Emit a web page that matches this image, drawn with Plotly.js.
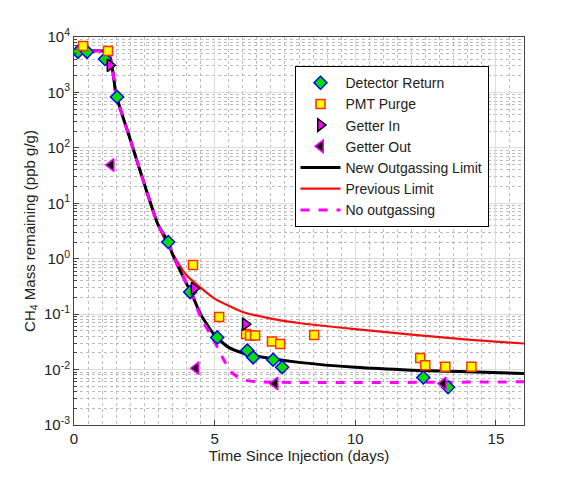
<!DOCTYPE html>
<html>
<head>
<meta charset="utf-8">
<script src="https://cdn.plot.ly/plotly-3.0.1.min.js"></script>
<style>body{margin:0}</style>
</head>
<body>
<div id="chart" style="width:579px;height:479px"></div>
<script>
// points mesurés
var detX = [0.14, 0.46, 1.1, 1.53, 3.35, 4.13, 5.09, 6.16, 6.37, 7.08, 7.4, 12.42, 13.3];
var detY = [5400, 5400, 4000, 830, 2.0, 0.25, 0.038, 0.022, 0.0166, 0.015, 0.011, 0.0072, 0.0048];
var pmtX = [0.32, 1.21, 4.23, 5.16, 6.12, 6.26, 6.44, 7.04, 7.33, 8.54, 12.31, 12.49, 13.2, 14.13];
var pmtY = [6900, 5600, 0.77, 0.089, 0.044, 0.041, 0.041, 0.032, 0.029, 0.042, 0.0161, 0.012, 0.0113, 0.0113];
var inX = [1.28, 4.27, 6.09];
var inY = [3100, 0.29, 0.066];
var outX = [1.32, 4.34, 7.15, 13.13];
var outY = [49, 0.0106, 0.0056, 0.0056];

// courbes (log10)
var newX = [0, 1.2, 1.5, 2, 2.5, 3, 3.35, 3.5, 4.0, 4.2, 4.5, 5.0, 5.5, 6, 7, 8, 10, 12, 14, 16];
var newL = [3.72, 3.72, 2.95, 2.15, 1.35, 0.6, 0.3, 0.08, -0.45, -0.65, -1.0, -1.38, -1.6, -1.7, -1.8, -1.87, -1.96, -2.01, -2.04, -2.07];
var prevX = [0, 1.2, 1.5, 2, 2.5, 3, 3.5, 4.0, 4.5, 5, 5.5, 6, 7, 8, 10, 12, 14, 16];
var prevL = [3.72, 3.72, 2.95, 2.15, 1.35, 0.6, 0.1, -0.3, -0.52, -0.72, -0.85, -0.96, -1.08, -1.16, -1.27, -1.37, -1.46, -1.53];
var noX = [0, 1.2, 1.5, 2, 2.5, 3, 3.35, 3.5, 4.0, 4.2, 4.5, 5, 5.3, 5.6, 6, 6.5, 16];
var noL = [3.72, 3.72, 2.95, 2.15, 1.35, 0.6, 0.3, 0.08, -0.45, -0.65, -1.05, -1.5, -1.8, -2.05, -2.18, -2.22, -2.22];

var yTickVals = [1e-3, 1e-2, 1e-1, 1, 10, 100, 1e3, 1e4];
var yTickText = ['10<sup>-3</sup>', '10<sup>-2</sup>', '10<sup>-1</sup>', '10<sup>0</sup>', '10<sup>1</sup>', '10<sup>2</sup>', '10<sup>3</sup>', '10<sup>4</sup>'];

function pow10(a) { return a.map(v => Math.pow(10, v)); }

var data = [
  {x: prevX, y: pow10(prevL), mode: 'lines', line: {color: '#f01010', width: 2.2, shape: 'spline', smoothing: 0.6}, name: 'Previous Limit', legendrank: 6},
  {x: newX, y: pow10(newL), mode: 'lines', line: {color: 'black', width: 3, shape: 'spline', smoothing: 0.6}, name: 'New Outgassing Limit', legendrank: 5},
  {x: noX, y: pow10(noL), mode: 'lines', line: {color: '#ff00ff', width: 3, dash: 'dash', shape: 'spline', smoothing: 0.6}, name: 'No outgassing', legendrank: 7},
  {x: detX, y: detY, mode: 'markers', name: 'Detector Return', legendrank: 1,
   marker: {symbol: 'diamond', size: 10, color: '#00e000', line: {color: '#0000ff', width: 1.5}}},
  {x: pmtX, y: pmtY, mode: 'markers', name: 'PMT Purge', legendrank: 2,
   marker: {symbol: 'square', size: 9, color: '#ffff00', line: {color: '#ff3000', width: 1.5}}},
  {x: inX, y: inY, mode: 'markers', name: 'Getter In', legendrank: 3,
   marker: {symbol: 'triangle-right', size: 11, color: '#ff00ff', line: {color: 'black', width: 1.5}}},
  {x: outX, y: outY, mode: 'markers', name: 'Getter Out', legendrank: 4,
   marker: {symbol: 'triangle-left', size: 11, color: 'black', line: {color: '#ff00ff', width: 1.5}}}
];

var axisCommon = {
  showline: true, mirror: true, linecolor: '#444', linewidth: 1,
  ticks: 'inside', ticklen: 5, tickcolor: '#444',
  gridcolor: '#dcdcdc', zeroline: false,
  tickfont: {size: 15, color: '#222'}
};

var layout = {
  width: 579, height: 479,
  font: {family: 'Liberation Sans, Arial, sans-serif', color: '#222'},
  margin: {l: 74, r: 55, t: 37, b: 54},
  plot_bgcolor: 'white', paper_bgcolor: 'white',
  xaxis: Object.assign({}, axisCommon, {
    range: [0, 16], dtick: 5,
    title: {text: 'Time Since Injection (days)', font: {size: 15}, standoff: 2},
    minor: {dtick: 0.5, showgrid: true, griddash: 'dot', gridcolor: '#bbbbbb', ticks: ''}
  }),
  yaxis: Object.assign({}, axisCommon, {
    type: 'log', range: [-3, 4],
    tickvals: yTickVals, ticktext: yTickText,
    title: {text: 'CH<sub>4</sub> Mass remaining (ppb g/g)', font: {size: 15}, standoff: 4},
    minor: {dtick: 'D1', showgrid: true, griddash: 'dot', gridcolor: '#bbbbbb', ticks: 'inside', ticklen: 3}
  }),
  legend: {
    x: 0.49, y: 0.925, xanchor: 'left', yanchor: 'top',
    bgcolor: 'white', bordercolor: 'black', borderwidth: 1,
    font: {size: 14}, tracegroupgap: 0, itemwidth: 40
  }
};

Plotly.newPlot('chart', data, layout, {displayModeBar: false});
</script>
</body>
</html>
